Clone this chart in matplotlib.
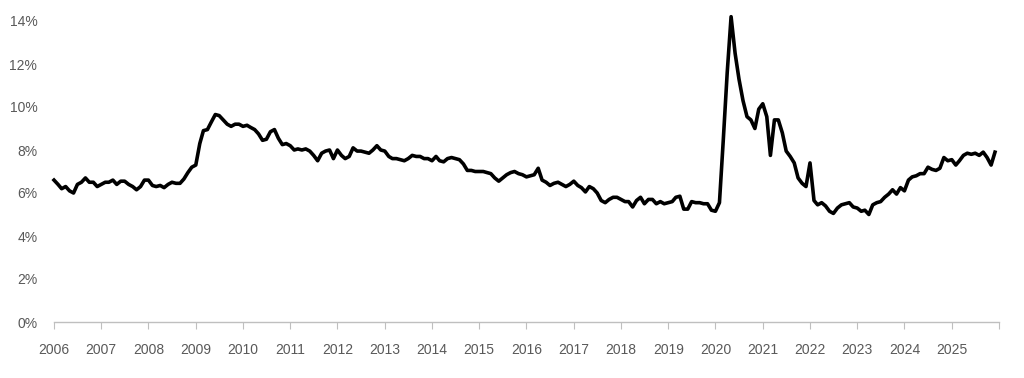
import pandas as pd
import matplotlib
matplotlib.use("Agg")
import matplotlib.pyplot as plt
from matplotlib.ticker import FuncFormatter

# monthly values, Jan 2006 - Dec 2025 (percent)
rate_2006_2010 = [
    6.6, 6.4, 6.2, 6.3, 6.1, 6.0, 6.4, 6.5, 6.7, 6.5, 6.5, 6.3,
    6.4, 6.5, 6.5, 6.6, 6.4, 6.55, 6.55, 6.4, 6.3, 6.15, 6.3, 6.6,
    6.6, 6.35, 6.3, 6.35, 6.25, 6.4, 6.5, 6.45, 6.45, 6.65, 6.95, 7.2,
    7.3, 8.3, 8.9, 8.95, 9.3, 9.65, 9.6, 9.4, 9.2, 9.1, 9.2, 9.2,
    9.1, 9.15, 9.05, 8.95, 8.75, 8.45, 8.5, 8.85, 8.95, 8.55, 8.25, 8.3,
]
rate_2011_2015 = [
    8.2, 8.0, 8.05, 8.0, 8.05, 7.95, 7.75, 7.5, 7.85, 7.95, 8.0, 7.6,
    8.0, 7.75, 7.6, 7.7, 8.1, 7.95, 7.95, 7.9, 7.85, 8.0, 8.2, 8.0,
    7.95, 7.7, 7.6, 7.6, 7.55, 7.5, 7.6, 7.75, 7.7, 7.7, 7.6, 7.6,
    7.5, 7.7, 7.5, 7.45, 7.6, 7.65, 7.6, 7.55, 7.35, 7.05, 7.05, 7.0,
    7.0, 7.0, 6.95, 6.9, 6.7, 6.55, 6.7, 6.85, 6.95, 7.0, 6.9, 6.85,
]
rate_2016_2020 = [
    6.75, 6.8, 6.85, 7.15, 6.6, 6.5, 6.35, 6.45, 6.5, 6.4, 6.3, 6.4,
    6.55, 6.35, 6.25, 6.05, 6.3, 6.2, 6.0, 5.65, 5.55, 5.7, 5.8, 5.8,
    5.7, 5.6, 5.6, 5.35, 5.65, 5.8, 5.5, 5.7, 5.7, 5.5, 5.6, 5.5,
    5.55, 5.6, 5.8, 5.85, 5.25, 5.25, 5.6, 5.55, 5.55, 5.5, 5.5, 5.2,
    5.15, 5.55, 8.4, 11.6, 14.2, 12.5, 11.3, 10.3, 9.55, 9.4, 9.0, 9.9,
]
rate_2021_2025 = [
    10.15, 9.55, 7.75, 9.4, 9.4, 8.8, 7.95, 7.7, 7.4, 6.7, 6.45, 6.3,
    7.4, 5.65, 5.45, 5.55, 5.4, 5.15, 5.05, 5.3, 5.45, 5.5, 5.55, 5.35,
    5.3, 5.15, 5.2, 5.0, 5.45, 5.55, 5.6, 5.8, 5.95, 6.15, 5.95, 6.25,
    6.1, 6.6, 6.75, 6.8, 6.9, 6.9, 7.2, 7.1, 7.05, 7.15, 7.65, 7.5,
    7.55, 7.3, 7.5, 7.75, 7.85, 7.8, 7.85, 7.75, 7.9, 7.65, 7.3, 7.9,
]
rates = rate_2006_2010 + rate_2011_2015 + rate_2016_2020 + rate_2021_2025
months = pd.date_range("2006-01-01", periods=len(rates), freq="MS")
year_ticks = pd.date_range("2006-01-01", "2026-01-01", freq="YS")
year_labels = [str(d.year) for d in year_ticks[:-1]] + [""]

plt.rcParams["font.family"] = ["Liberation Sans", "DejaVu Sans"]

fig = plt.figure(figsize=(10.24, 3.78), dpi=100)
ax = fig.add_axes([54 / 1024, 56 / 378, 945 / 1024, 301 / 378])

ax.plot(months, rates, color="black", linewidth=2.6,
        solid_joinstyle="round", clip_on=False)

ax.set_ylim(0, 14)
ax.set_yticks(range(0, 15, 2))
ax.yaxis.set_major_formatter(FuncFormatter(lambda v, p: f"{v:.0f}%"))
ax.set_xlim(year_ticks[0], year_ticks[-1])
ax.set_xticks(year_ticks)
ax.set_xticklabels(year_labels)

for s in ["top", "right", "left"]:
    ax.spines[s].set_visible(False)
ax.spines["bottom"].set_color("#bfbfbf")
ax.spines["bottom"].set_linewidth(1.0)
ax.tick_params(axis="x", direction="out", length=5, color="#bfbfbf",
               labelcolor="#595959", labelsize=10, pad=10)
ax.tick_params(axis="y", length=0, labelcolor="#595959", labelsize=10, pad=12)

fig.savefig("out.png", dpi=100)
